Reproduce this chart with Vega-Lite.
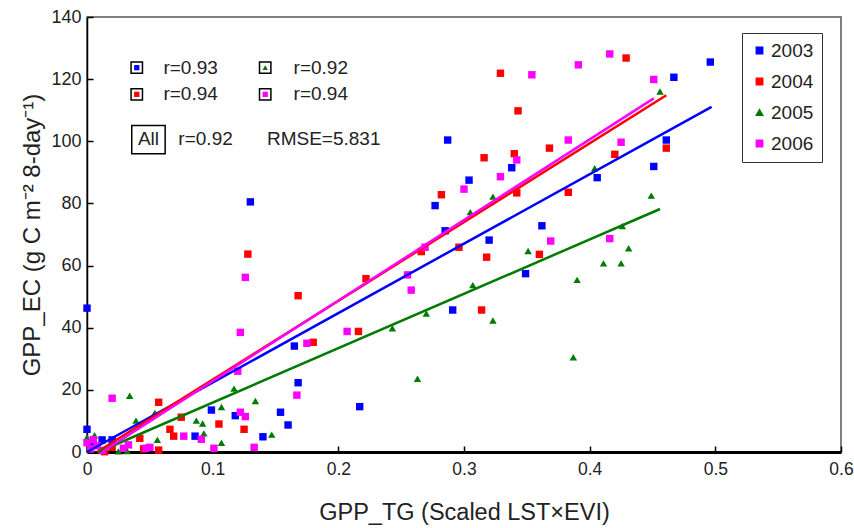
{
  "$schema": "https://vega.github.io/schema/vega-lite/v6.json",
  "width": 754,
  "height": 435,
  "autosize": {"type": "none"},
  "padding": {"left": 87, "top": 17, "right": 13, "bottom": 76},
  "background": "white",
  "config": {
    "font": "Liberation Sans",
    "view": {"stroke": "#555555", "strokeWidth": 1.5},
    "axis": {"grid": false, "labelFont": "Liberation Sans", "titleFont": "Liberation Sans", "labelColor": "#222", "titleColor": "#222", "titleFontWeight": "normal", "labelFlush": false, "labelOverlap": false}
  },
  "datasets": {
    "pts": [
      {"year": "2003", "x": 0, "y": 46.3}, {"year": "2003", "x": 0, "y": 7.3}, {"year": "2003", "x": 0.012, "y": 3.9}, {"year": "2003", "x": 0.02, "y": 3.9}, {"year": "2003", "x": 0.005, "y": 2.5},
      {"year": "2003", "x": 0.099, "y": 13.5}, {"year": "2003", "x": 0.086, "y": 5.1}, {"year": "2003", "x": 0.118, "y": 11.7}, {"year": "2003", "x": 0.14, "y": 4.9}, {"year": "2003", "x": 0.154, "y": 12.8},
      {"year": "2003", "x": 0.16, "y": 8.7}, {"year": "2003", "x": 0.13, "y": 80.5}, {"year": "2003", "x": 0.165, "y": 34.1}, {"year": "2003", "x": 0.168, "y": 22.3}, {"year": "2003", "x": 0.217, "y": 14.6},
      {"year": "2003", "x": 0.277, "y": 79.3}, {"year": "2003", "x": 0.285, "y": 71.2}, {"year": "2003", "x": 0.287, "y": 100.4}, {"year": "2003", "x": 0.291, "y": 45.7}, {"year": "2003", "x": 0.304, "y": 87.5},
      {"year": "2003", "x": 0.32, "y": 68.2}, {"year": "2003", "x": 0.338, "y": 91.5}, {"year": "2003", "x": 0.349, "y": 57.4}, {"year": "2003", "x": 0.362, "y": 72.8}, {"year": "2003", "x": 0.406, "y": 88.3},
      {"year": "2003", "x": 0.451, "y": 91.9}, {"year": "2003", "x": 0.461, "y": 100.4}, {"year": "2003", "x": 0.467, "y": 120.6}, {"year": "2003", "x": 0.496, "y": 125.5},
      {"year": "2004", "x": 0.014, "y": 0.1}, {"year": "2004", "x": 0.02, "y": 1.5}, {"year": "2004", "x": 0.042, "y": 4.4}, {"year": "2004", "x": 0.045, "y": 1}, {"year": "2004", "x": 0.057, "y": 0.6},
      {"year": "2004", "x": 0.057, "y": 16}, {"year": "2004", "x": 0.066, "y": 7.3}, {"year": "2004", "x": 0.069, "y": 5.1}, {"year": "2004", "x": 0.075, "y": 11.2}, {"year": "2004", "x": 0.105, "y": 9},
      {"year": "2004", "x": 0.125, "y": 7.3}, {"year": "2004", "x": 0.128, "y": 63.7}, {"year": "2004", "x": 0.168, "y": 50.3}, {"year": "2004", "x": 0.18, "y": 35.3}, {"year": "2004", "x": 0.216, "y": 38.8},
      {"year": "2004", "x": 0.222, "y": 55.8}, {"year": "2004", "x": 0.266, "y": 64.5}, {"year": "2004", "x": 0.282, "y": 82.8}, {"year": "2004", "x": 0.296, "y": 65.9}, {"year": "2004", "x": 0.314, "y": 45.7},
      {"year": "2004", "x": 0.316, "y": 94.7}, {"year": "2004", "x": 0.318, "y": 62.7}, {"year": "2004", "x": 0.329, "y": 121.9}, {"year": "2004", "x": 0.34, "y": 96}, {"year": "2004", "x": 0.342, "y": 83.4},
      {"year": "2004", "x": 0.343, "y": 109.8}, {"year": "2004", "x": 0.36, "y": 63.6}, {"year": "2004", "x": 0.368, "y": 97.8}, {"year": "2004", "x": 0.383, "y": 83.6}, {"year": "2004", "x": 0.42, "y": 95.8},
      {"year": "2004", "x": 0.429, "y": 126.8}, {"year": "2004", "x": 0.461, "y": 97.8},
      {"year": "2005", "x": 0, "y": 4.7}, {"year": "2005", "x": 0.006, "y": 5.4}, {"year": "2005", "x": 0.002, "y": 1.5}, {"year": "2005", "x": 0.025, "y": 0.2}, {"year": "2005", "x": 0.032, "y": 0.3},
      {"year": "2005", "x": 0.034, "y": 18.1}, {"year": "2005", "x": 0.039, "y": 10.1}, {"year": "2005", "x": 0.054, "y": 12.6}, {"year": "2005", "x": 0.056, "y": 3.9}, {"year": "2005", "x": 0.087, "y": 10.1},
      {"year": "2005", "x": 0.092, "y": 9.2}, {"year": "2005", "x": 0.093, "y": 6}, {"year": "2005", "x": 0.107, "y": 14.5}, {"year": "2005", "x": 0.107, "y": 3}, {"year": "2005", "x": 0.117, "y": 20.4},
      {"year": "2005", "x": 0.134, "y": 16.4}, {"year": "2005", "x": 0.147, "y": 5.6}, {"year": "2005", "x": 0.243, "y": 39.8}, {"year": "2005", "x": 0.263, "y": 23.6}, {"year": "2005", "x": 0.27, "y": 44.6},
      {"year": "2005", "x": 0.305, "y": 77.2}, {"year": "2005", "x": 0.307, "y": 53.7}, {"year": "2005", "x": 0.323, "y": 82.2}, {"year": "2005", "x": 0.323, "y": 42.3}, {"year": "2005", "x": 0.351, "y": 64.7},
      {"year": "2005", "x": 0.387, "y": 30.5}, {"year": "2005", "x": 0.39, "y": 55.4}, {"year": "2005", "x": 0.404, "y": 91.3}, {"year": "2005", "x": 0.411, "y": 60.7}, {"year": "2005", "x": 0.425, "y": 60.7},
      {"year": "2005", "x": 0.426, "y": 72.7}, {"year": "2005", "x": 0.431, "y": 65.6}, {"year": "2005", "x": 0.449, "y": 82.5}, {"year": "2005", "x": 0.456, "y": 116},
      {"year": "2006", "x": 0, "y": 3}, {"year": "2006", "x": 0.003, "y": 1}, {"year": "2006", "x": 0.005, "y": 4}, {"year": "2006", "x": 0.008, "y": 2}, {"year": "2006", "x": 0.012, "y": 0.5},
      {"year": "2006", "x": 0.02, "y": 17.3}, {"year": "2006", "x": 0.029, "y": 1.2}, {"year": "2006", "x": 0.033, "y": 2.3}, {"year": "2006", "x": 0.047, "y": 1.2}, {"year": "2006", "x": 0.05, "y": 1.5},
      {"year": "2006", "x": 0.077, "y": 5.1}, {"year": "2006", "x": 0.091, "y": 4.1}, {"year": "2006", "x": 0.101, "y": 1.2}, {"year": "2006", "x": 0.12, "y": 26}, {"year": "2006", "x": 0.122, "y": 12.8},
      {"year": "2006", "x": 0.126, "y": 11.4}, {"year": "2006", "x": 0.133, "y": 1.5}, {"year": "2006", "x": 0.122, "y": 38.5}, {"year": "2006", "x": 0.126, "y": 56.2}, {"year": "2006", "x": 0.167, "y": 18.3},
      {"year": "2006", "x": 0.175, "y": 35}, {"year": "2006", "x": 0.207, "y": 38.8}, {"year": "2006", "x": 0.255, "y": 57}, {"year": "2006", "x": 0.258, "y": 52.1}, {"year": "2006", "x": 0.269, "y": 65.9},
      {"year": "2006", "x": 0.3, "y": 84.6}, {"year": "2006", "x": 0.329, "y": 88.6}, {"year": "2006", "x": 0.342, "y": 94}, {"year": "2006", "x": 0.354, "y": 121.4}, {"year": "2006", "x": 0.369, "y": 67.9},
      {"year": "2006", "x": 0.383, "y": 100.4}, {"year": "2006", "x": 0.391, "y": 124.6}, {"year": "2006", "x": 0.416, "y": 128.1}, {"year": "2006", "x": 0.416, "y": 68.7}, {"year": "2006", "x": 0.425, "y": 99.7},
      {"year": "2006", "x": 0.451, "y": 119.9}
    ],
    "fits": [
      {"year": "2003", "x": 0.0, "y": 0}, {"year": "2003", "x": 0.497, "y": 111.1},
      {"year": "2004", "x": 0.008, "y": 0}, {"year": "2004", "x": 0.461, "y": 114.8},
      {"year": "2005", "x": 0.009, "y": 0}, {"year": "2005", "x": 0.456, "y": 78.2},
      {"year": "2006", "x": 0.012, "y": 0}, {"year": "2006", "x": 0.451, "y": 113.8}
    ],
    "keys": [
      {"year": "2003", "x": 0.0396, "y": 123.7},
      {"year": "2005", "x": 0.1418, "y": 123.7},
      {"year": "2004", "x": 0.0396, "y": 115.1},
      {"year": "2006", "x": 0.1418, "y": 115.1}
    ],
    "labels": [
      {"x": 0.0608, "y": 123.7, "t": "r=0.93"},
      {"x": 0.1644, "y": 123.7, "t": "r=0.92"},
      {"x": 0.0608, "y": 115.1, "t": "r=0.94"},
      {"x": 0.1644, "y": 115.1, "t": "r=0.94"},
      {"x": 0.0727, "y": 100.6, "t": "r=0.92"},
      {"x": 0.1432, "y": 100.6, "t": "RMSE=5.831"}
    ],
    "allbox": [
      {"x": 0.0356, "x2": 0.0622, "y": 96.0, "y2": 105.1, "t": "All", "xc": 0.0489, "yc": 100.6}
    ]
  },
  "layer": [
    {
      "data": {"name": "pts"},
      "mark": {"type": "point", "filled": true, "opacity": 1, "size": 55},
      "encoding": {
        "x": {"field": "x", "type": "quantitative", "scale": {"domain": [0, 0.6], "nice": false}, "axis": {
          "values": [0, 0.1, 0.2, 0.3, 0.4, 0.5, 0.6], "format": "~g", "title": "GPP_TG (Scaled LST×EVI)",
          "domainColor": "black", "domainWidth": 3, "tickColor": "black", "tickSize": -6, "tickWidth": 1.5,
          "labelFontSize": 17.5, "labelPadding": 14, "titleFontSize": 23.5, "titlePadding": 23}},
        "y": {"field": "y", "type": "quantitative", "scale": {"domain": [0, 140], "nice": false}, "axis": {
          "values": [0, 20, 40, 60, 80, 100, 120, 140], "title": "GPP_EC (g C m⁻² 8-day⁻¹)",
          "domainColor": "black", "domainWidth": 1.5, "tickColor": "black", "tickSize": -6, "tickWidth": 1.5,
          "labelFontSize": 18, "labelPadding": 12, "titleFontSize": 24, "titlePadding": 6}},
        "color": {"field": "year", "type": "nominal", "scale": {"domain": ["2003", "2004", "2005", "2006"], "range": ["#0000ff", "#ff0000", "#007a00", "#ff00ff"]},
          "legend": {"title": null, "orient": "none", "legendX": 655, "legendY": 16, "strokeColor": "#333", "fillColor": "white", "padding": 8,
            "labelFontSize": 19, "labelFont": "Liberation Sans", "labelColor": "#222", "symbolSize": 40, "rowPadding": 11, "labelOffset": 2, "symbolOffset": 0}},
        "shape": {"field": "year", "type": "nominal", "scale": {"domain": ["2003", "2004", "2005", "2006"], "range": ["square", "square", "triangle-up", "square"]}, "legend": null}
      }
    },
    {
      "data": {"name": "fits"},
      "mark": {"type": "line", "strokeWidth": 2.5},
      "encoding": {
        "x": {"field": "x", "type": "quantitative"},
        "y": {"field": "y", "type": "quantitative"},
        "color": {"field": "year", "type": "nominal"},
        "detail": {"field": "year"}
      }
    },
    {
      "data": {"name": "keys"},
      "mark": {"type": "point", "shape": "square", "filled": false, "stroke": "black", "strokeWidth": 1.5, "size": 130, "fill": "white", "opacity": 1},
      "encoding": {
        "x": {"field": "x", "type": "quantitative"},
        "y": {"field": "y", "type": "quantitative"}
      }
    },
    {
      "data": {"name": "keys"},
      "mark": {"type": "point", "filled": true, "size": 28, "opacity": 1},
      "encoding": {
        "x": {"field": "x", "type": "quantitative"},
        "y": {"field": "y", "type": "quantitative"},
        "color": {"field": "year", "type": "nominal"},
        "shape": {"field": "year", "type": "nominal"}
      }
    },
    {
      "data": {"name": "labels"},
      "mark": {"type": "text", "align": "left", "baseline": "middle", "fontSize": 19, "font": "Liberation Sans", "color": "#222"},
      "encoding": {
        "x": {"field": "x", "type": "quantitative"},
        "y": {"field": "y", "type": "quantitative"},
        "text": {"field": "t"}
      }
    },
    {
      "data": {"name": "allbox"},
      "mark": {"type": "rect", "fill": null, "fillOpacity": 0, "stroke": "black", "strokeWidth": 1.5},
      "encoding": {
        "x": {"field": "x", "type": "quantitative"},
        "x2": {"field": "x2"},
        "y": {"field": "y", "type": "quantitative"},
        "y2": {"field": "y2"}
      }
    },
    {
      "data": {"name": "allbox"},
      "mark": {"type": "text", "align": "center", "baseline": "middle", "fontSize": 19, "font": "Liberation Sans", "color": "#222"},
      "encoding": {
        "x": {"field": "xc", "type": "quantitative"},
        "y": {"field": "yc", "type": "quantitative"},
        "text": {"field": "t"}
      }
    }
  ]
}
